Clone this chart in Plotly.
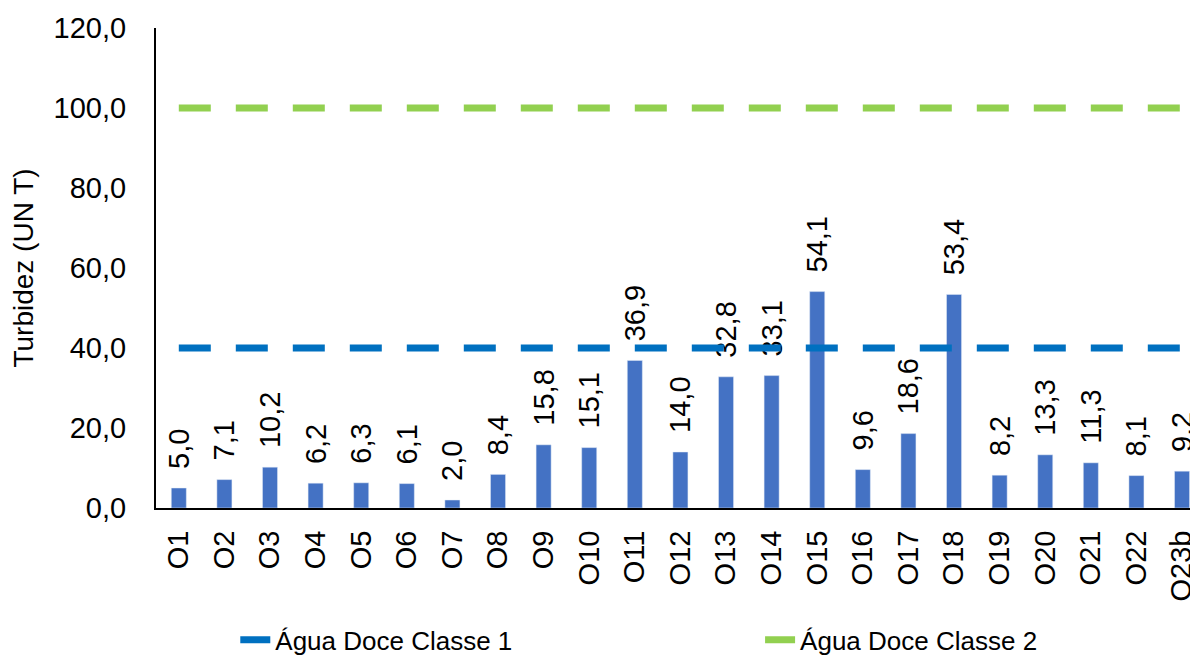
import plotly.graph_objects as go

# Pontos de amostragem e turbidez medida
pontos = ["O1", "O2", "O3", "O4", "O5", "O6", "O7", "O8", "O9", "O10", "O11", "O12",
          "O13", "O14", "O15", "O16", "O17", "O18", "O19", "O20", "O21", "O22", "O23b"]
turbidez = [5.0, 7.1, 10.2, 6.2, 6.3, 6.1, 2.0, 8.4, 15.8, 15.1, 36.9, 14.0,
            32.8, 33.1, 54.1, 9.6, 18.6, 53.4, 8.2, 13.3, 11.3, 8.1, 9.2]

# Limites CONAMA
limite_classe_1 = 40.0
limite_classe_2 = 100.0

y_ticks = [0, 20, 40, 60, 80, 100, 120]

fig = go.Figure()

fig.add_trace(
    go.Bar(
        x=pontos,
        y=turbidez,
        marker=dict(color="#4472C4"),
        # espacos no inicio afastam o rotulo da barra
        texttemplate="\u00a0\u00a0%{y:.1f}",
        textposition="outside",
        textangle=-90,
        textfont=dict(size=29, color="black"),
        constraintext="none",
        cliponaxis=False,
        showlegend=False,
    )
)

fig.add_trace(
    go.Scatter(
        x=pontos,
        y=[limite_classe_1] * len(pontos),
        mode="lines",
        name="Água Doce Classe 1",
        line=dict(color="#0070C0", width=7, dash="32px,25px"),
        legend="legend",
    )
)

fig.add_trace(
    go.Scatter(
        x=pontos,
        y=[limite_classe_2] * len(pontos),
        mode="lines",
        name="Água Doce Classe 2",
        line=dict(color="#92D050", width=7, dash="32px,25px"),
        legend="legend2",
    )
)

# a pagina html tem margem de 8px no body, por isso 1190x654
legenda = dict(
    orientation="h",
    xref="container",
    yref="container",
    xanchor="left",
    y=0.034,
    yanchor="middle",
    font=dict(size=26),
    itemwidth=30,
)

fig.update_layout(
    width=1190,
    height=654,
    plot_bgcolor="white",
    paper_bgcolor="white",
    separators=",.",
    font=dict(family="Liberation Sans, Arial", size=27, color="black"),
    margin=dict(l=148, r=0, t=20, b=154, autoexpand=False),
    bargap=0.67,
    legend=dict(legenda, x=0.191),
    legend2=dict(legenda, x=0.632),
)

fig.update_xaxes(
    type="category",
    range=[-0.5, 22.35],
    tickangle=-90,
    showline=True,
    linecolor="black",
    linewidth=2,
    ticks="",
    showgrid=False,
    tickfont=dict(size=29),
    ticklabelstandoff=9,
    automargin=False,
)

fig.update_yaxes(
    range=[0, 120],
    tickvals=y_ticks,
    tickformat=".1f",
    showline=True,
    linecolor="black",
    linewidth=2,
    showgrid=False,
    zeroline=False,
    ticks="",
    tickfont=dict(size=29),
    ticklabelstandoff=22,
    automargin=False,
    title=dict(text="Turbidez (UN T)", font=dict(size=28), standoff=24),
)

fig.write_html("out.html")
